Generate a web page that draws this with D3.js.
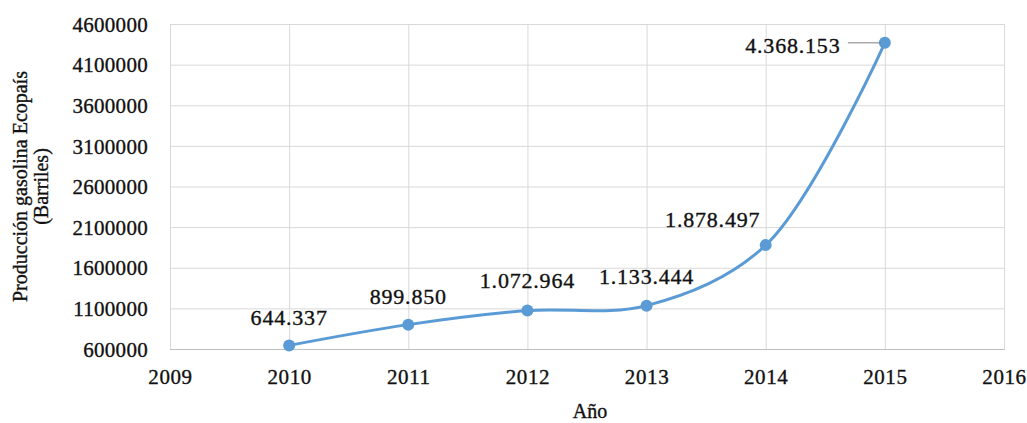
<!DOCTYPE html>
<html>
<head>
<meta charset="utf-8">
<script src="https://cdn.jsdelivr.net/npm/d3@7"></script>
<style>
  body { margin: 0; background: #fff; }
  svg text { font-family: "Liberation Serif", "Times New Roman", serif; fill: #111; stroke: #111; stroke-width: 0.35px; }
</style>
</head>
<body>
<div id="chart"></div>
<script>
var years = [2010, 2011, 2012, 2013, 2014, 2015];
var produccion = [644337, 899850, 1072964, 1133444, 1878497, 4368153];
var labels = ["644.337", "899.850", "1.072.964", "1.133.444", "1.878.497", "4.368.153"];
var yTicks = [600000, 1100000, 1600000, 2100000, 2600000, 3100000, 3600000, 4100000, 4600000];
var xTicks = [2009, 2010, 2011, 2012, 2013, 2014, 2015, 2016];

window.onload = () => {
  var margin = { top: 24, right: 23, bottom: 74, left: 170 },
    width = 1027 - margin.left - margin.right,
    height = 423 - margin.top - margin.bottom;

  var serif = '"Liberation Serif", "Times New Roman", serif';

  var svg = d3.select("#chart").append("svg")
    .attr("width", 1027)
    .attr("height", 423);

  var g = svg.append("g")
    .attr("transform", "translate(" + margin.left + "," + margin.top + ")");

  var x = d3.scaleLinear().domain([2009, 2016]).range([0, width]);
  var y = d3.scaleLinear().domain([600000, 4600000]).range([height, 0]);

  // grid
  g.append("g")
    .call(d3.axisLeft(y).tickValues(yTicks).tickSize(-width).tickFormat(""))
    .call(s => s.select(".domain").remove())
    .selectAll("line").attr("stroke", "#d9d9d9");

  g.append("g")
    .attr("transform", "translate(0," + height + ")")
    .call(d3.axisBottom(x).tickValues(xTicks).tickSize(-height).tickFormat(""))
    .call(s => s.select(".domain").attr("stroke", "#bfbfbf"))
    .selectAll("line").attr("stroke", "#d9d9d9");

  // tick labels
  var yAx = g.append("g")
    .call(d3.axisLeft(y).tickValues(yTicks).tickSize(0).tickPadding(22).tickFormat(d3.format("d")));
  yAx.attr("font-family", serif).attr("font-size", 21);
  yAx.select(".domain").remove();
  yAx.selectAll("text").attr("dy", "0.34em").style("letter-spacing", "0.3px");

  var xAx = g.append("g")
    .attr("transform", "translate(0," + height + ")")
    .call(d3.axisBottom(x).tickValues(xTicks).tickSize(0).tickPadding(20).tickFormat(d3.format("d")));
  xAx.attr("font-family", serif).attr("font-size", 21);
  xAx.select(".domain").remove();
  xAx.selectAll("text").style("letter-spacing", "0.6px");

  // line
  var pts = years.map((yr, i) => ({ year: yr, value: produccion[i], label: labels[i] }));

  var line = d3.line()
    .x(d => x(d.year))
    .y(d => y(d.value))
    .curve(d3.curveCatmullRom.alpha(0.5));

  g.append("path")
    .datum(pts)
    .attr("fill", "none")
    .attr("stroke", "#5b9bd5")
    .attr("stroke-width", 3)
    .attr("d", line);

  g.selectAll(".dot")
    .data(pts)
    .enter().append("circle")
    .attr("cx", d => x(d.year))
    .attr("cy", d => y(d.value))
    .attr("r", 6)
    .attr("fill", "#5b9bd5");

  // data labels (offsets as Excel placed them)
  var offs = [[0, -20], [0, -21], [0, -23], [0, -22], [-53, -18], [-92, 10]];
  g.selectAll(".lbl")
    .data(pts)
    .enter().append("text")
    .attr("x", (d, i) => x(d.year) + offs[i][0])
    .attr("y", (d, i) => y(d.value) + offs[i][1])
    .attr("text-anchor", "middle")
    .style("font-family", serif)
    .style("font-size", "22px")
    .style("letter-spacing", "0.8px")
    .text(d => d.label);

  // leader line for the last label
  var last = pts[pts.length - 1];
  g.append("line")
    .attr("x1", x(last.year) - 37)
    .attr("x2", x(last.year) - 4)
    .attr("y1", y(last.value))
    .attr("y2", y(last.value))
    .attr("stroke", "#7f7f7f")
    .attr("stroke-width", 1);

  // axis titles
  svg.append("text")
    .attr("x", margin.left + width / 2 + 3)
    .attr("y", 418)
    .attr("text-anchor", "middle")
    .style("font-family", serif)
    .style("font-size", "20px")
    .text("Año");

  var yt = svg.append("text")
    .attr("transform", "translate(27," + (margin.top + height / 2) + ") rotate(-90)")
    .attr("text-anchor", "middle")
    .style("font-family", serif)
    .style("font-size", "20px");
  yt.append("tspan").attr("x", 0).attr("dy", 0).text("Producción gasolina Ecopaís");
  yt.append("tspan").attr("x", 0).attr("dy", 21).text("(Barriles)");
};
</script>
</body>
</html>
